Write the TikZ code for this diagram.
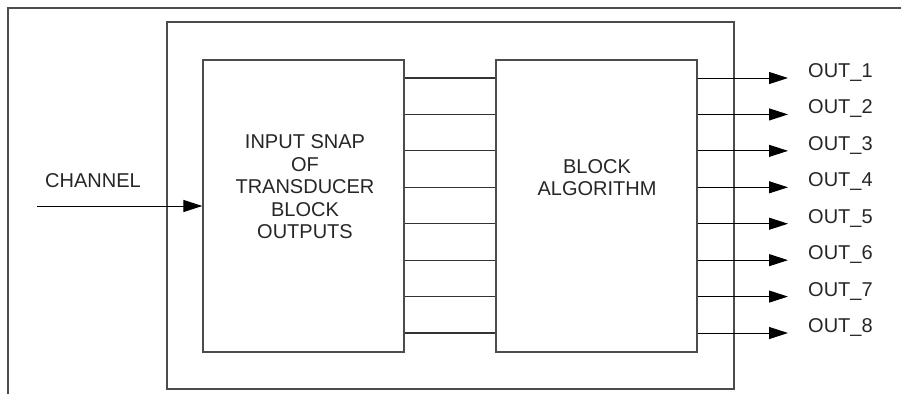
\documentclass[tikz,border=0pt]{standalone}
\usepackage{fontspec}
\setmainfont{Liberation Sans}
\usetikzlibrary{arrows.meta}
\begin{document}
\begin{tikzpicture}[x=1pt,y=-1pt,
  boxline/.style={draw=black!70,line width=1.3pt},
  blk/.style={boxline,rectangle,inner sep=0pt,minimum width=201pt,minimum height=292pt},
  wire/.style={draw=black!80,line width=1.2pt},
  sig/.style={draw=black,line width=1pt,-{Triangle[length=19pt,width=12pt]}},
  lbl/.style={font=\fontsize{20}{22.5}\selectfont,text=black!85,inner sep=0pt},
  blabel/.style={lbl,align=center}]
\useasboundingbox (0,0) rectangle (901,394);
% outer frame (top and left edges)
\coordinate (fa) at (8,394);
\coordinate (fb) at (8,8);
\coordinate (fc) at (901,8);
\draw[boxline] (fa) -- (fb) -- (fc);
% middle frame
\node[boxline,rectangle,inner sep=0pt,minimum width=567pt,minimum height=367pt] (mid) at (450.5,205.5) {};
% inner blocks
\node[blk] (snap) at (303.5,206) {};
\node[blk] (alg) at (596.5,206) {};
\node[blabel] (snaptxt) at (305,187) {INPUT SNAP\\OF\\TRANSDUCER\\BLOCK\\OUTPUTS};
\node[blabel] (algtxt) at (597,177.5) {BLOCK\\ALGORITHM};
% channel input
\coordinate (chin) at (37,206);
\draw[sig] (chin) -- (snap.west |- chin);
\node[lbl,anchor=base west] (chtxt) at (45,187) {CHANNEL};
% wires and outputs
\foreach \i in {1,...,8}{
  \pgfmathsetmacro{\yy}{78+(\i-1)*36.43}
  \coordinate (w\i) at (450,\yy);
  \draw[wire] (snap.east |- w\i) -- (alg.west |- w\i);
  \coordinate (o\i) at (788,\yy);
  \draw[sig] (alg.east |- w\i) -- (o\i);
  \node[lbl,anchor=base west] (out\i) at (808,\yy-0.5) {OUT\_\i};
}
\end{tikzpicture}
\end{document}
